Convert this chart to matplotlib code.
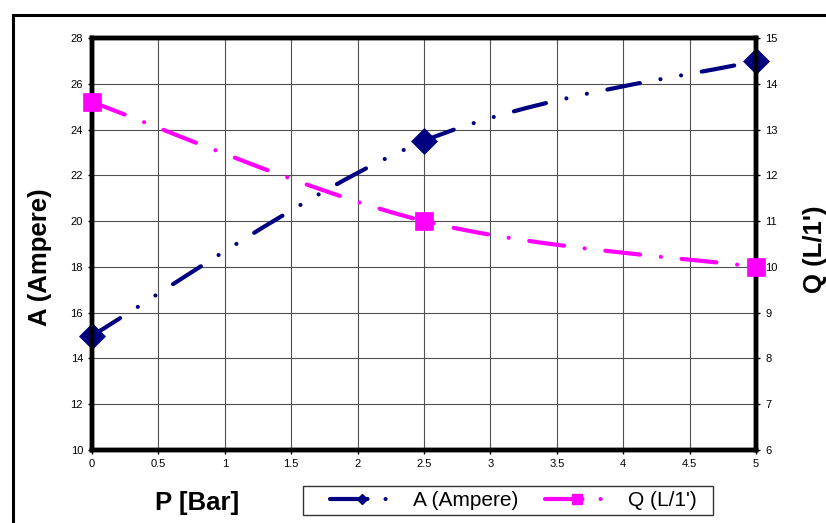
import numpy as np
import matplotlib
matplotlib.use("Agg")
import matplotlib.pyplot as plt
from matplotlib.path import Path
from matplotlib.patches import PathPatch, Rectangle
from matplotlib.lines import Line2D

plt.rcParams['font.family'] = ['Liberation Sans', 'DejaVu Sans']
plt.rcParams['lines.scale_dashes'] = False

# ---- data ----
pressure = [0, 2.5, 5]                 # P [Bar]
ampere = [15, 23.5, 27]                # A (Ampere), left axis
flow = [13.6, 11, 10]                  # Q (L/1'), right axis
x_ticks = [0, 0.5, 1, 1.5, 2, 2.5, 3, 3.5, 4, 4.5, 5]
x_tick_labels = ["0", "0.5", "1", "1.5", "2", "2.5", "3", "3.5", "4", "4.5", "5"]
left_ticks = [10, 12, 14, 16, 18, 20, 22, 24, 26, 28]
right_ticks = [6, 7, 8, 9, 10, 11, 12, 13, 14, 15]
series_names = ["A (Ampere)", "Q (L/1')"]

NAVY = '#000080'
MAGENTA = '#FF00FF'
DASH_A = (0, (23.8, 15.1, 0.01, 15.1, 0.01, 15.1))
DASH_Q = (0, (25.2, 15.0, 0.01, 15.0))


def smooth_path(xs, ys):
    pts = np.column_stack([xs, ys]).astype(float)
    n = len(pts)
    verts = [pts[0]]
    codes = [Path.MOVETO]
    for i in range(n - 1):
        p0 = pts[max(i - 1, 0)]
        p1 = pts[i]
        p2 = pts[i + 1]
        p3 = pts[min(i + 2, n - 1)]
        verts += [p1 + (p2 - p0) / 6.0, p2 - (p3 - p1) / 6.0, p2]
        codes += [Path.CURVE4] * 3
    return Path(verts, codes)


fig = plt.figure(figsize=(8.26, 5.23), dpi=100)
fig.patch.set_facecolor('white')

# outer frame
fig.add_artist(Rectangle((12.5 / 826, -0.2), 1.2, 1 - 14.5 / 523 + 0.2,
                         transform=fig.transFigure, fill=False,
                         lw=2.2, ec='black'))

left, right, top, bottom = 92 / 826, 756 / 826, 1 - 38 / 523, 1 - 450 / 523
ax = fig.add_axes([left, bottom, right - left, top - bottom])
ax2 = ax.twinx()

ax.set_xlim(0, 5)
ax.set_ylim(10, 28)
ax2.set_ylim(6, 15)
ax.set_xticks(x_ticks)
ax.set_xticklabels(x_tick_labels)
ax.set_yticks(left_ticks)
ax2.set_yticks(right_ticks)

ax.grid(True, color='#505050', lw=0.8, zorder=0)
ax.set_axisbelow(True)

for a in (ax, ax2):
    for s in a.spines.values():
        s.set_linewidth(3.2)
        s.set_color('black')
ax.tick_params(axis='both', direction='out', length=3, width=1,
               labelsize=8, pad=3.5)
ax2.tick_params(axis='y', direction='out', length=3, width=1,
                labelsize=8, pad=3.5)

# A series (left axis)
ax.add_patch(PathPatch(smooth_path(pressure, ampere), transform=ax.transData,
                       fill=False, edgecolor=NAVY, lw=3.0, linestyle=DASH_A,
                       capstyle='round', joinstyle='round', zorder=3))
ax.plot(pressure, ampere, linestyle='none', marker='D', ms=13,
        color=NAVY, mew=0.5, clip_on=False, zorder=4)

# Q series (right axis)
ax2.add_patch(PathPatch(smooth_path(pressure, flow), transform=ax2.transData,
                        fill=False, edgecolor=MAGENTA, lw=3.0, linestyle=DASH_Q,
                        capstyle='round', joinstyle='round', zorder=3))
ax2.plot(pressure, flow, linestyle='none', marker='s', ms=12.5,
         color=MAGENTA, mew=0.5, clip_on=False, zorder=4)

# axis labels
fig.text(40 / 826, 1 - 257 / 523, "A (Ampere)", rotation=90, ha='center',
         va='center', fontsize=18.5, fontweight='bold')
fig.text(815 / 826, 1 - 249 / 523, "Q (L/1')", rotation=90, ha='center',
         va='center', fontsize=18.5, fontweight='bold')
fig.text(197 / 826, 1 - 503 / 523, "P [Bar]", ha='center', va='center',
         fontsize=18.5, fontweight='bold')

# legend box
fig.add_artist(Rectangle((303 / 826, 1 - 515 / 523), 410 / 826, 29 / 523,
                         transform=fig.transFigure, fill=True, fc='white',
                         lw=1.0, ec='#333333', zorder=5))
h1 = Line2D([], [], color=NAVY, lw=3.0, linestyle=(0, (27, 13, 0.01, 30)),
            marker='D', ms=5, dash_capstyle='round', solid_capstyle='round')
h2 = Line2D([], [], color=MAGENTA, lw=3.0, linestyle=(0, (27, 13, 0.01, 30)),
            marker='s', ms=7, dash_capstyle='round', solid_capstyle='round')
leg = fig.legend([h1, h2], series_names, loc='center left',
                 bbox_to_anchor=(330 / 826, 1 - 500.5 / 523), ncol=2,
                 fontsize=15, frameon=False,
                 handlelength=3.1, handletextpad=0.87, columnspacing=1.3,
                 borderpad=0.0, borderaxespad=0.0, numpoints=1)
leg.set_zorder(6)

fig.savefig('out.png', dpi=100)
